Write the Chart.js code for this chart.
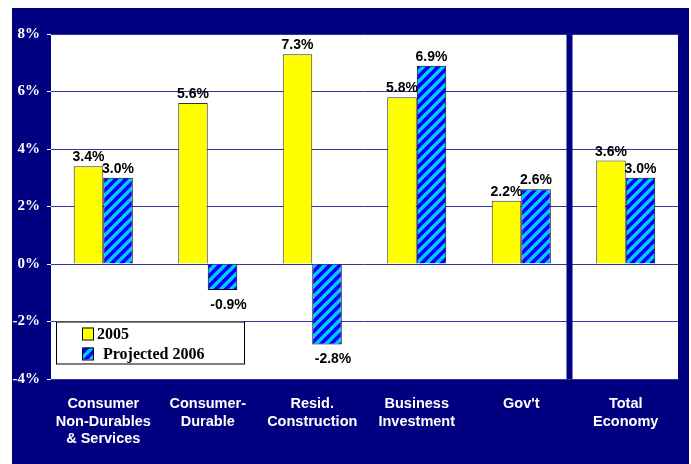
<!DOCTYPE html>
<html>
<head>
<meta charset="utf-8">
<script src="https://cdn.jsdelivr.net/npm/chart.js@4"></script>
<style>
  body { margin: 0; background: #ffffff; }
  #wrap { position: absolute; left: 12px; top: 8px; width: 677px; height: 456px; background: #000080; }
</style>
</head>
<body>
<div id="wrap"><canvas id="growthChart" width="677" height="456"></canvas></div>
<script>
// chart data
const categories = [
    ['Consumer', 'Non-Durables', '& Services'],
    ['Consumer-', 'Durable'],
    ['Resid.', 'Construction'],
    ['Business', 'Investment'],
    ["Gov't"],
    ['Total', 'Economy']
];
const values2005 = [3.4, 5.6, 7.3, 5.8, 2.2, 3.6];
const valuesProj2006 = [3.0, -0.9, -2.8, 6.9, 2.6, 3.0];
const seriesNames = ['2005', 'Projected 2006'];
const yTicks = [-4, -2, 0, 2, 4, 6, 8];

// striped blue fill for the projected bars
function makeStripes() {
    const size = 10;
    const c = document.createElement('canvas');
    c.width = size; c.height = size;
    const g = c.getContext('2d');
    g.fillStyle = '#0000ff';
    g.fillRect(0, 0, size, size);
    g.strokeStyle = '#00ccff';
    g.lineWidth = 3.4;
    g.beginPath();
    g.moveTo(-2, 2); g.lineTo(2, -2);
    g.moveTo(0, size); g.lineTo(size, 0);
    g.moveTo(size - 2, size + 2); g.lineTo(size + 2, size - 2);
    g.stroke();
    return g.createPattern(c, 'repeat');
}

const canvas = document.getElementById('growthChart');
const ctx = canvas.getContext('2d');
const stripes = makeStripes();

// labels above / below each bar
const valueLabels = {
    id: 'valueLabels',
    afterDatasetsDraw(chart) {
        const c = chart.ctx;
        c.save();
        c.font = 'bold 14px "Liberation Sans", Arial, sans-serif';
        c.fillStyle = '#000000';
        c.textAlign = 'center';
        chart.data.datasets.forEach((ds, i) => {
            chart.getDatasetMeta(i).data.forEach((bar, j) => {
                const v = ds.data[j];
                if (v >= 0) {
                    c.textBaseline = 'alphabetic';
                    c.fillText(v.toFixed(1) + '%', bar.x, bar.y - 5);
                } else {
                    c.textBaseline = 'top';
                    c.fillText(v.toFixed(1) + '%', bar.x + 6, bar.y + 8);
                }
            });
        });
        c.restore();
    }
};

// white plot area, navy divider before Total Economy, legend box
const extras = {
    id: 'extras',
    beforeDraw(chart) {
        const a = chart.chartArea;
        const c = chart.ctx;
        c.save();
        c.fillStyle = '#ffffff';
        c.fillRect(a.left, a.top, a.right - a.left, a.bottom - a.top);
        c.restore();
    },
    beforeDatasetsDraw(chart) {
        const c = chart.ctx;
        const xs = chart.scales.x;
        const area = chart.chartArea;
        const xSep = (xs.getPixelForValue(4) + xs.getPixelForValue(5)) / 2;
        c.save();
        c.fillStyle = '#000080';
        c.fillRect(xSep - 7, area.top, 6, area.bottom - area.top);
        c.restore();
    },
    afterDatasetsDraw(chart) {
        const c = chart.ctx;
        const area = chart.chartArea;
        const ys = chart.scales.y;
        const bx = area.left + 5;
        const by = ys.getPixelForValue(-2);
        const bw = 188, bh = 42;
        c.save();
        c.fillStyle = '#ffffff';
        c.fillRect(bx, by, bw, bh);
        c.strokeStyle = '#000000';
        c.lineWidth = 1;
        c.strokeRect(bx + 0.5, by + 0.5, bw, bh);
        c.font = 'bold 16px "Liberation Serif", "Times New Roman", serif';
        c.textBaseline = 'middle';
        c.textAlign = 'left';
        chart.data.datasets.forEach((ds, i) => {
            const sy = by + 6 + i * 20;
            c.fillStyle = ds.backgroundColor;
            c.fillRect(bx + 26, sy, 11, 12);
            c.strokeStyle = '#000000';
            c.strokeRect(bx + 26.5, sy + 0.5, 11, 12);
            c.fillStyle = '#000000';
            c.fillText(seriesNames[i], bx + (i === 0 ? 41 : 47), sy + 7);
        });
        c.restore();
    }
};

new Chart(ctx, {
    type: 'bar',
    data: {
        labels: categories,
        datasets: [{
            label: seriesNames[0],
            data: values2005,
            backgroundColor: '#ffff00',
            borderColor: '#333333',
            borderWidth: 1
        }, {
            label: seriesNames[1],
            data: valuesProj2006,
            backgroundColor: stripes,
            borderColor: '#000000',
            borderWidth: 1
        }]
    },
    options: {
        responsive: false,
        animation: false,
        layout: { padding: { top: 26, right: 11, left: 0, bottom: 0 } },
        datasets: { bar: { categoryPercentage: 0.565, barPercentage: 1 } },
        plugins: {
            legend: { display: false },
            tooltip: { enabled: false }
        },
        scales: {
            x: {
                grid: { display: false, drawTicks: false },
                border: { display: false },
                ticks: {
                    color: '#ffffff',
                    padding: 16,
                    maxRotation: 0,
                    font: { family: '"Liberation Sans", Arial, sans-serif', size: 14.5, weight: 'bold', lineHeight: 1.22 }
                },
                afterFit(scale) { scale.height = 85; }
            },
            y: {
                min: -4,
                max: 8,
                afterBuildTicks(scale) { scale.ticks = yTicks.map(v => ({ value: v })); },
                grid: {
                    color: '#33339a',
                    lineWidth: 1,
                    drawTicks: true,
                    tickLength: 4,
                    tickColor: '#ffffff'
                },
                border: { display: false },
                ticks: {
                    color: '#ffffff',
                    padding: 7,
                    callback: v => v + '%',
                    font: { family: '"Liberation Serif", "Times New Roman", serif', size: 15, weight: 'bold' }
                },
                afterFit(scale) { scale.width = 39; }
            }
        }
    },
    plugins: [extras, valueLabels]
});
</script>
</body>
</html>
